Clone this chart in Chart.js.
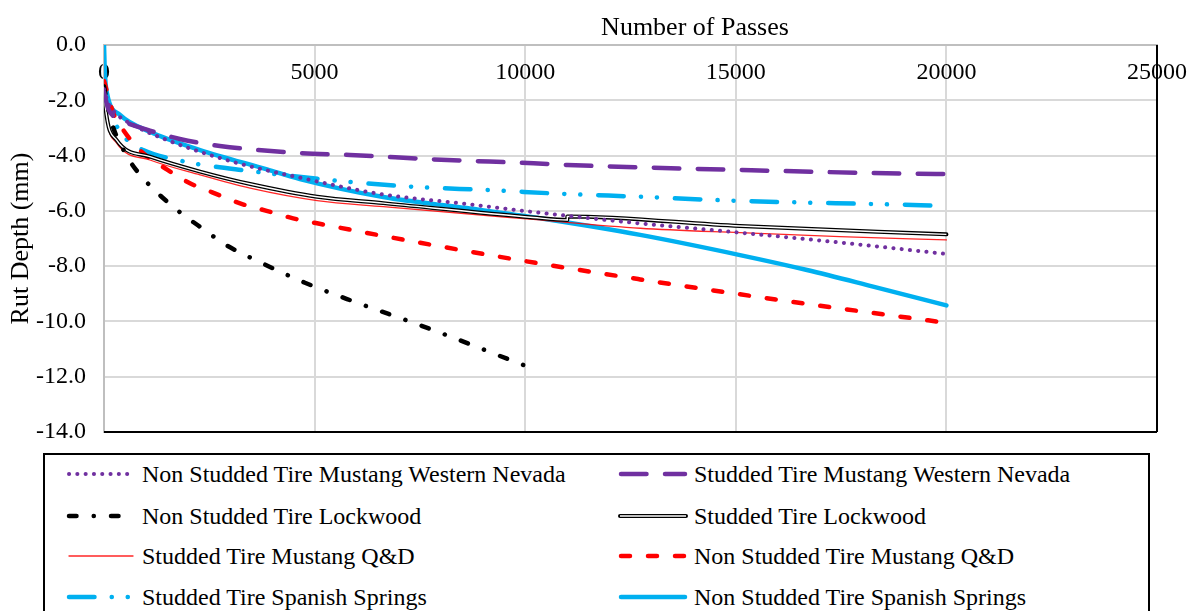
<!DOCTYPE html>
<html>
<head>
<meta charset="utf-8">
<script src="https://cdn.jsdelivr.net/npm/chart.js@4.4.0/dist/chart.umd.min.js"></script>
<style>
  body { margin: 0; background: #fff; font-family: "Times New Roman", "Liberation Serif", "DejaVu Serif", serif; }
  #wrap { position: relative; width: 1188px; height: 611px; overflow: hidden; }
  #c { position: absolute; left: 0; top: 0; }
  #xTitle { position: absolute; top: 12px; left: 545px; width: 300px; text-align: center; font-size: 26px; }
  #legend { position: absolute; left: 43px; top: 453px; width: 1107px; height: 200px; border: 2px solid #000; box-sizing: border-box; }
  .item { position: absolute; height: 30px; display: flex; align-items: center; font-size: 24px; white-space: nowrap; }
  .item svg { margin-right: 6px; }
</style>
</head>
<body>
<div id="wrap">
  <canvas id="c" width="1188" height="445"></canvas>
  <div id="xTitle">Number of Passes</div>
  <div id="legend"></div>
</div>
<script>
// series: passes (x) and rut depth in mm (y)
const nsMwnX = [0, 100, 300, 700, 1500, 3000, 4800, 6600, 8600, 10300, 12700, 15100, 17500, 20000];
const nsMwnY = [-1.6, -2.1, -2.5, -2.9, -3.44, -4.2, -4.85, -5.4, -5.75, -6.06, -6.45, -6.79, -7.15, -7.56];

const sMwnX = [0, 100, 380, 1000, 1800, 2750, 4650, 5840, 8000, 10200, 11000, 15100, 19300, 20000];
const sMwnY = [-1.7, -2.3, -2.68, -3.05, -3.4, -3.65, -3.91, -3.98, -4.15, -4.28, -4.34, -4.52, -4.66, -4.67];

const nsLwX = [0, 140, 570, 930, 1640, 2440, 2870, 3820, 4770, 5770, 7740, 9690, 10200];
const nsLwY = [-1.5, -2.59, -4.08, -4.82, -5.85, -6.75, -7.21, -7.94, -8.6, -9.19, -10.27, -11.42, -11.72];

const sLwX = [0, 30, 300, 1090, 2280, 3470, 5060, 6630, 10190, 11000, 11000, 15100, 20000];
const sLwY = [-1.5, -2.2, -3.44, -4.04, -4.58, -5.03, -5.49, -5.72, -6.24, -6.33, -6.2, -6.55, -6.85];

const sMqdX = [0, 30, 300, 1090, 2280, 3470, 5060, 6630, 10190, 12730, 15100, 17470, 20000];
const sMqdY = [-1.3, -2.2, -3.55, -4.16, -4.7, -5.18, -5.63, -5.85, -6.31, -6.63, -6.79, -6.93, -7.05];

const nsMqdX = [0, 220, 460, 850, 1490, 2040, 2570, 3230, 3860, 4490, 5060, 7820, 10400, 12730, 15100, 17470, 20000];
const nsMqdY = [-1.3, -2.46, -3.08, -3.8, -4.5, -5.0, -5.33, -5.73, -6.0, -6.27, -6.45, -7.24, -7.92, -8.48, -9.02, -9.53, -10.05];

const sSsX = [0, 60, 550, 930, 1920, 3470, 5530, 7340, 9160, 10950, 12730, 14550, 16360, 18190, 20000];
const sSsY = [-1.5, -2.0, -3.44, -3.8, -4.22, -4.56, -4.91, -5.13, -5.25, -5.39, -5.49, -5.61, -5.69, -5.75, -5.82];

const nsSsX = [0, 20, 70, 380, 1090, 2280, 3870, 4650, 6630, 8610, 10350, 12730, 15100, 16690, 18260, 20000];
const nsSsY = [0, -1.0, -1.74, -2.53, -3.14, -3.8, -4.5, -4.85, -5.5, -5.9, -6.27, -6.87, -7.6, -8.14, -8.74, -9.42];

const xTicks = [0, 5000, 10000, 15000, 20000, 25000];
const yTicks = [0, -2, -4, -6, -8, -10, -12, -14];

const purple = '#7030A0', cyan = '#00B0F0', red = '#FF0000';
const serif = '"Times New Roman", "Liberation Serif", "DejaVu Serif", serif';

function pts(xs, ys) {
  return xs.map((x, i) => ({ x: x, y: ys[i] }));
}

// legend order: left column then right column, row by row
const series = [
  { label: 'Non Studded Tire Mustang Western Nevada', data: pts(nsMwnX, nsMwnY), color: purple, width: 4, dash: [0.1, 8.2] },
  { label: 'Studded Tire Mustang Western Nevada', data: pts(sMwnX, sMwnY), color: purple, width: 4.5, dash: [25.5, 18.5] },
  { label: 'Non Studded Tire Lockwood', data: pts(nsLwX, nsLwY), color: '#000', width: 4.5, dash: [7.5, 17.2, 0.1, 17.2] },
  { label: 'Studded Tire Lockwood', data: pts(sLwX, sLwY), color: '#000', width: 4, dash: [], double: true },
  { label: 'Studded Tire Mustang Q&D', data: pts(sMqdX, sMqdY), color: 'rgba(255,0,0,0.85)', width: 1.3, dash: [] },
  { label: 'Non Studded Tire Mustang Q&D', data: pts(nsMqdX, nsMqdY), color: red, width: 4.5, dash: [9, 18] },
  { label: 'Studded Tire Spanish Springs', data: pts(sSsX, sSsY), color: cyan, width: 4.5, dash: [25.5, 17.2, 0.1, 15.9, 0.1, 17.9] },
  { label: 'Non Studded Tire Spanish Springs', data: pts(nsSsX, nsSsY), color: cyan, width: 4.5, dash: [] }
];

// white core for the double line + black frame on bottom/right
const extras = {
  id: 'extras',
  beforeDatasetsDraw(chart) {
    const a = chart.chartArea, ctx = chart.ctx;
    ctx.save();
    ctx.strokeStyle = '#000';
    ctx.lineWidth = 2;
    ctx.beginPath();
    ctx.moveTo(a.left, a.bottom);
    ctx.lineTo(a.right, a.bottom);
    ctx.moveTo(a.right, a.top);
    ctx.lineTo(a.right, a.bottom);
    ctx.stroke();
    ctx.restore();
  },
  afterDatasetDraw(chart, args) {
    if (!series[args.index].double) return;
    const ctx = chart.ctx;
    ctx.save();
    ctx.beginPath();
    args.meta.dataset.path(ctx);
    ctx.strokeStyle = '#fff';
    ctx.lineWidth = 1.4;
    ctx.stroke();
    ctx.restore();
  }
};

new Chart(document.getElementById('c'), {
  type: 'line',
  data: {
    datasets: series.map(s => ({
      label: s.label,
      data: s.data,
      borderColor: s.color,
      borderWidth: s.width,
      borderDash: s.dash,
      borderCapStyle: 'round',
      borderJoinStyle: 'round',
      cubicInterpolationMode: 'monotone',
      pointRadius: 0,
      fill: false
    }))
  },
  options: {
    responsive: false,
    animation: false,
    layout: { padding: { top: 45, right: 31, bottom: 13, left: 0 } },
    plugins: { legend: { display: false }, tooltip: { enabled: false } },
    scales: {
      x: {
        type: 'linear',
        position: { y: 0 },
        min: 0,
        max: 25000,
        afterBuildTicks: s => { s.ticks = xTicks.map(v => ({ value: v })); },
        // axis sits on y = 0 inside the plot, so it takes no layout room
        afterFit: s => { s.height = 0; s.paddingLeft = 0; s.paddingRight = 0; },
        ticks: { color: '#000', font: { family: serif, size: 24 }, padding: 13, callback: v => String(v), maxRotation: 0 },
        grid: { color: '#d9d9d9', lineWidth: 2, drawTicks: false },
        border: { color: '#bfbfbf', width: 2 }
      },
      y: {
        type: 'linear',
        min: -14,
        max: 0,
        afterBuildTicks: s => { s.ticks = yTicks.map(v => ({ value: v })); },
        afterFit: s => { s.width = 104; s.paddingTop = 0; s.paddingBottom = 0; },
        ticks: { color: '#000', font: { family: serif, size: 24 }, padding: 18, callback: v => v.toFixed(1) },
        grid: { color: '#d9d9d9', lineWidth: 2, drawTicks: false },
        border: { color: '#bfbfbf', width: 2 },
        title: { display: true, text: 'Rut Depth (mm)', color: '#000', font: { family: serif, size: 26 }, padding: { top: 6, bottom: 0 } }
      }
    }
  },
  plugins: [extras]
});

// html legend, two columns
const legend = document.getElementById('legend');
const colX = [66 - 43, 618 - 43];
const rowY = [474, 516, 556, 597];
series.forEach((s, i) => {
  const col = i % 2, row = Math.floor(i / 2);
  const el = document.createElement('div');
  el.className = 'item';
  el.style.left = (colX[col] - 2) + 'px';
  el.style.top = (rowY[row] - 453 - 2 - 15) + 'px';
  const w = 70;
  let svg = '<svg width="' + w + '" height="12">';
  if (s.double) {
    svg += '<line x1="2" y1="6" x2="' + (w - 2) + '" y2="6" stroke="#000" stroke-width="4" stroke-linecap="round"/>';
    svg += '<line x1="2" y1="6" x2="' + (w - 2) + '" y2="6" stroke="#fff" stroke-width="1.4"/>';
  } else {
    svg += '<line x1="3" y1="6" x2="' + (w - 3) + '" y2="6" stroke="' + s.color + '" stroke-width="' + s.width +
      '" stroke-linecap="round" stroke-dasharray="' + (s.dash.length ? s.dash.join(' ') : 'none') + '"/>';
  }
  svg += '</svg>';
  el.innerHTML = svg;
  const t = document.createElement('span');
  t.textContent = s.label;
  el.appendChild(t);
  legend.appendChild(el);
});
</script>
</body>
</html>
